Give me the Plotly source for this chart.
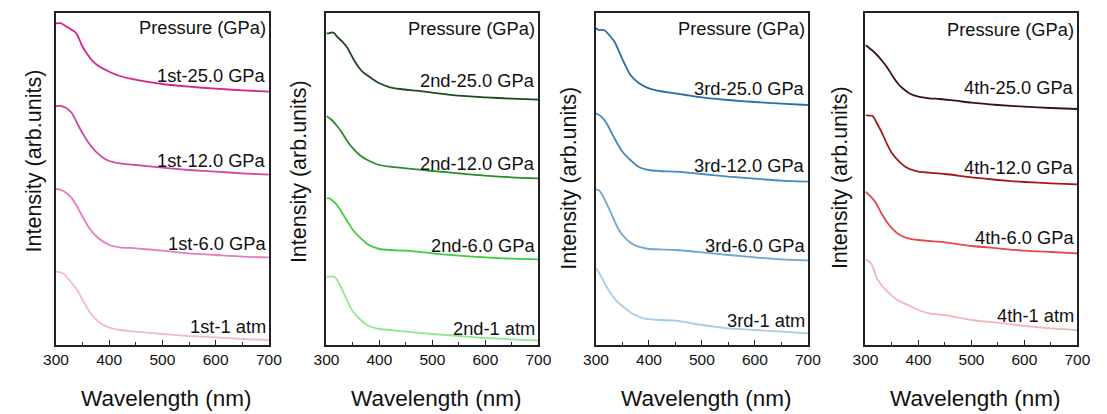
import plotly.graph_objects as go

# ---------------- data ----------------
cycles = ["1st", "2nd", "3rd", "4th"]
pressures = ["25.0 GPa", "12.0 GPa", "6.0 GPa", "1 atm"]

# Panel 1 (1st)
wl_1st_25 = [300, 310, 315, 325, 335, 340, 350, 360, 370, 380, 400, 420, 440, 470, 500, 550, 600, 650, 700]
in_1st_25 = [321.7, 321.7, 320, 316.7, 313.3, 310, 298.3, 290, 283.3, 279, 273.3, 269, 266.3, 263.3, 261, 258.3, 256.3, 254.7, 253.3]
wl_1st_12 = [300, 310, 320, 330, 340, 350, 360, 375, 390, 400, 420, 450, 500, 550, 600, 650, 700]
in_1st_12 = [239, 239, 236.7, 231.7, 221.7, 211.7, 203.3, 193.3, 186.7, 184, 181.7, 180, 177.3, 175, 173.3, 171.7, 170.3]
wl_1st_6 = [300, 310, 320, 330, 340, 350, 365, 380, 400, 420, 450, 500, 550, 600, 650, 700]
in_1st_6 = [156, 155, 151.7, 146.7, 138.3, 128.3, 115, 106.7, 100, 97.7, 96.7, 94.3, 91.7, 90, 88.3, 87.7]
wl_1st_1 = [300, 310, 315, 325, 340, 350, 365, 380, 400, 420, 450, 500, 550, 600, 650, 700]
in_1st_1 = [73.3, 72.3, 71, 65, 55, 45, 31.7, 23.3, 17.3, 15, 13.3, 11, 9, 7.7, 6, 5]

# Panel 2 (2nd)
wl_2nd_25 = [300, 305, 310, 315, 320, 330, 340, 350, 360, 370, 385, 400, 420, 440, 470, 500, 550, 600, 650, 700]
in_2nd_25 = [311.7, 311.7, 312.7, 311.7, 308.3, 303.3, 296.7, 286.7, 278.3, 272.3, 266.7, 261.7, 257.7, 256, 254.3, 252.3, 249.3, 247.7, 246.3, 245.3]
wl_2nd_12 = [300, 310, 320, 330, 340, 350, 365, 380, 400, 420, 450, 500, 550, 600, 650, 700]
in_2nd_12 = [229, 225, 219, 211.7, 203.3, 196.7, 189, 184.3, 180, 178.3, 176.7, 174, 171.7, 169.3, 167.7, 166.7]
wl_2nd_6 = [300, 305, 310, 320, 330, 340, 350, 365, 380, 400, 420, 450, 500, 550, 600, 650, 700]
in_2nd_6 = [146.7, 146.7, 145, 140, 131.7, 123.3, 115, 106.7, 100, 96, 95, 94.3, 91.7, 89.3, 87.7, 86.3, 85.7]
wl_2nd_1 = [300, 310, 315, 320, 330, 340, 350, 365, 380, 400, 420, 450, 500, 550, 600, 650, 700]
in_2nd_1 = [68.3, 68.3, 68.3, 65, 55, 43.3, 33.3, 25, 19, 16, 15, 13.3, 11, 9, 7, 5.7, 4.3]

# Panel 3 (3rd)
wl_3rd_25 = [300, 305, 315, 325, 335, 345, 355, 365, 380, 400, 420, 440, 470, 500, 550, 600, 650, 700]
in_3rd_25 = [316.7, 315, 315, 310, 303.3, 291.7, 280, 270, 262.3, 256.7, 254, 252.3, 250, 247.7, 245, 243, 241.3, 240]
wl_3rd_12 = [300, 310, 320, 330, 340, 350, 365, 380, 400, 420, 450, 500, 550, 600, 650, 700]
in_3rd_12 = [231.7, 228.3, 221.7, 211.7, 201.7, 193.3, 185, 178.3, 175, 174, 173.3, 171, 168.3, 166.3, 164.3, 163.3]
wl_3rd_6 = [300, 305, 310, 320, 330, 340, 350, 365, 380, 400, 420, 450, 500, 550, 600, 650, 700]
in_3rd_6 = [155.7, 155, 151.7, 141.7, 130, 118.3, 110, 102.3, 98.3, 96, 95.7, 95, 92.7, 90, 87.7, 85.7, 84.7]
wl_3rd_1 = [300, 305, 310, 320, 330, 340, 355, 370, 390, 420, 450, 500, 550, 600, 650, 700]
in_3rd_1 = [76.7, 73.3, 68.3, 58.3, 50, 43.3, 36.7, 31, 26.7, 25, 24.3, 20, 16.7, 15, 13.3, 11.7]

# Panel 4 (4th)
wl_4th_25 = [300, 310, 320, 330, 340, 350, 360, 370, 385, 400, 420, 440, 470, 500, 550, 600, 650, 700]
in_4th_25 = [300, 295.7, 291, 285, 278.3, 270, 262.3, 256.7, 251, 248.3, 246.7, 246, 244.3, 242.3, 240, 238.3, 237, 236]
wl_4th_12 = [300, 305, 313, 320, 330, 340, 350, 365, 380, 400, 420, 450, 500, 550, 600, 650, 700]
in_4th_12 = [230, 229.3, 229.3, 223.3, 213.3, 201.7, 191.7, 182.7, 176.7, 173.3, 172.3, 171, 167.7, 165, 163, 161.7, 160.7]
wl_4th_6 = [300, 310, 320, 330, 340, 350, 365, 380, 400, 420, 450, 500, 550, 600, 650, 700]
in_4th_6 = [153.3, 148.3, 141.7, 131.7, 123.3, 116.7, 110, 106.7, 105, 104, 102.7, 99, 96.7, 94.3, 93, 91.7]
wl_4th_1 = [300, 305, 310, 315, 320, 330, 345, 360, 380, 400, 420, 450, 500, 550, 600, 650, 700]
in_4th_1 = [85, 84.3, 81.7, 76.7, 68.3, 60, 51.7, 45, 40, 35, 31.7, 30, 25, 22.3, 19, 16.7, 15]

# label vertical positions (intensity units) for each curve label
label_y_1st = [270, 185, 102, 19]
label_y_2nd = [265, 182, 100, 17]
label_y_3rd = [257, 180, 100, 25]
label_y_4th = [258, 178, 108, 30]
header_y = [318, 317, 317, 316]

# ---------------- styling ----------------
colors = {
    "1st": ["#d1268c", "#d4479d", "#e07fbc", "#f2b8d8"],
    "2nd": ["#1e4a1e", "#2b8c2b", "#3fcc3f", "#90e890"],
    "3rd": ["#2b6ea7", "#4789bf", "#6ca6d2", "#a9cbe5"],
    "4th": ["#3d1015", "#a3181d", "#e04a4a", "#f4b6b6"],
}

series = {
    "1st": [(wl_1st_25, in_1st_25), (wl_1st_12, in_1st_12), (wl_1st_6, in_1st_6), (wl_1st_1, in_1st_1)],
    "2nd": [(wl_2nd_25, in_2nd_25), (wl_2nd_12, in_2nd_12), (wl_2nd_6, in_2nd_6), (wl_2nd_1, in_2nd_1)],
    "3rd": [(wl_3rd_25, in_3rd_25), (wl_3rd_12, in_3rd_12), (wl_3rd_6, in_3rd_6), (wl_3rd_1, in_3rd_1)],
    "4th": [(wl_4th_25, in_4th_25), (wl_4th_12, in_4th_12), (wl_4th_6, in_4th_6), (wl_4th_1, in_4th_1)],
}
label_ys = {"1st": label_y_1st, "2nd": label_y_2nd, "3rd": label_y_3rd, "4th": label_y_4th}

W, H = 1107, 414
panel_px = [(44, 262), (321, 538), (597, 814), (873, 1090)]
ytitle_px = [22, 293, 569, 847]
ytitle_cy = [161, 172, 178, 178]
plot_top, plot_bottom = 13, 345
ydom = [(H - plot_bottom) / H, (H - plot_top) / H]

FONT = "Liberation Sans, Arial, sans-serif"
TXT = "#111111"

fig = go.Figure()
annotations = []
layout_axes = {}

for i, cyc in enumerate(cycles):
    n = "" if i == 0 else str(i + 1)
    xa, ya = "x" + n, "y" + n
    for j, (wl, inten) in enumerate(series[cyc]):
        fig.add_trace(go.Scatter(
            x=wl, y=inten, mode="lines", xaxis=xa, yaxis=ya,
            line=dict(color=colors[cyc][j], width=1.8, shape="spline", smoothing=0.6),
            showlegend=False, hoverinfo="skip",
        ))
        annotations.append(dict(
            text=f"{cyc}-{pressures[j]}", xref=f"{xa} domain", yref=ya,
            x=1, y=label_ys[cyc][j], xanchor="right", yanchor="middle", xshift=-1,
            showarrow=False, font=dict(family=FONT, size=18.3, color=TXT),
        ))
    annotations.append(dict(
        text="Pressure (GPa)", xref=f"{xa} domain", yref=ya,
        x=1, y=header_y[i], xanchor="right", yanchor="middle", xshift=-1,
        showarrow=False, font=dict(family=FONT, size=18.3, color=TXT),
    ))
    l, r = panel_px[i]
    annotations.append(dict(
        text="Intensity (arb.units)", xref="paper", yref="paper",
        x=ytitle_px[i] / W, y=1 - ytitle_cy[i] / H, xanchor="center", yanchor="middle",
        textangle=-90, showarrow=False, font=dict(family=FONT, size=21.5, color=TXT),
    ))
    annotations.append(dict(
        text="Wavelength (nm)", xref="paper", yref="paper",
        x=((l + r) / 2 + 4) / W, y=1 - 398 / H, xanchor="center", yanchor="middle",
        showarrow=False, font=dict(family=FONT, size=22.5, color=TXT),
    ))
    layout_axes["xaxis" + n] = dict(
        domain=[l / W, r / W], range=[300, 700], anchor=ya,
        tickmode="array", tickvals=[300, 400, 500, 600, 700],
        ticks="inside", ticklen=5, tickwidth=1.2, tickcolor="#222222",
        minor=dict(tickmode="array", tickvals=[350, 450, 550, 650], ticks="inside", ticklen=3, tickwidth=1.2, tickcolor="#222222"),
        showline=True, linecolor="#222222", linewidth=1.5, mirror=True,
        showgrid=False, zeroline=False,
        tickfont=dict(family=FONT, size=15.5, color=TXT),
    )
    layout_axes["yaxis" + n] = dict(
        domain=ydom, range=[0, 332], anchor=xa,
        showticklabels=False, ticks="", showline=True, linecolor="#222222",
        linewidth=1.5, mirror=True, showgrid=False, zeroline=False,
    )

fig.update_layout(
    width=W, height=H, margin=dict(l=0, r=0, t=0, b=0),
    paper_bgcolor="white", plot_bgcolor="white",
    annotations=annotations, **layout_axes,
)

fig.write_html("out.html")
